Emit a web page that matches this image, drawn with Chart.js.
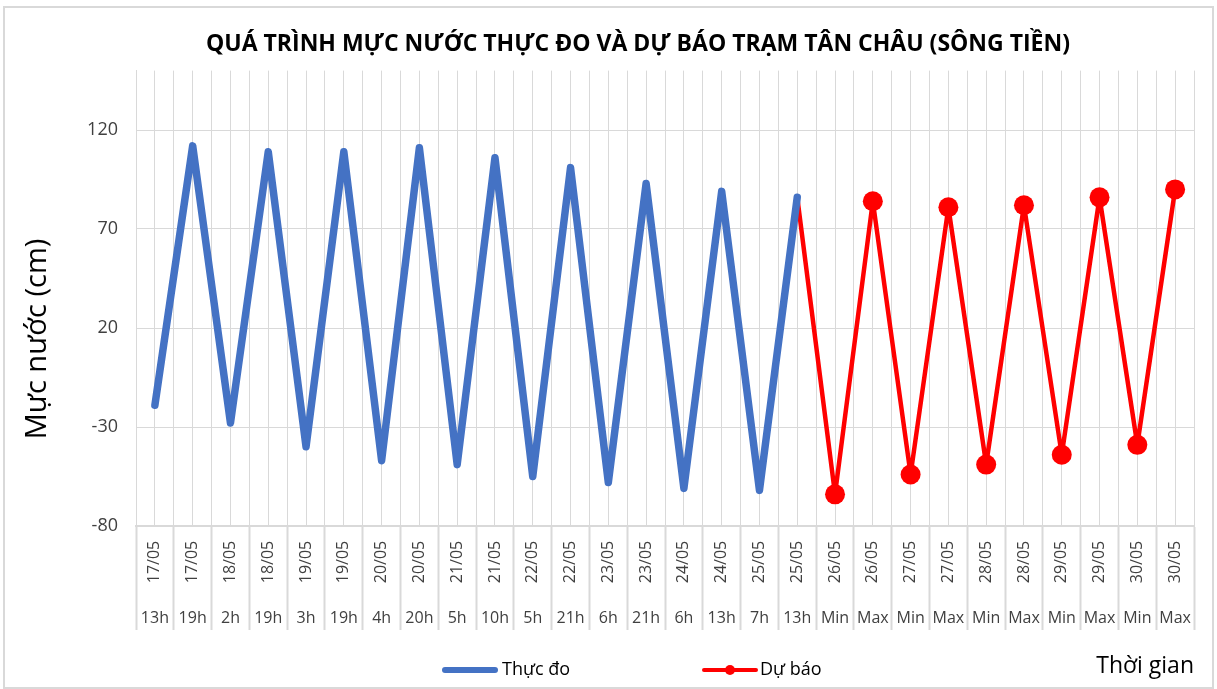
<!DOCTYPE html>
<html>
<head>
<meta charset="utf-8">
<title>Mực nước trạm Tân Châu</title>
<script src="https://cdn.jsdelivr.net/npm/chart.js@4.4.1/dist/chart.umd.min.js"></script>
<style>
  html, body { margin: 0; padding: 0; background: #fff; }
  canvas { display: block; }
</style>
</head>
<body>
<canvas id="chart" width="1217" height="689"></canvas>
<script>
// Category labels (two rows under the axis)
const dateLabels = ["17/05", "17/05", "18/05", "18/05", "19/05", "19/05", "20/05", "20/05",
  "21/05", "21/05", "22/05", "22/05", "23/05", "23/05", "24/05", "24/05", "25/05", "25/05",
  "26/05", "26/05", "27/05", "27/05", "28/05", "28/05", "29/05", "29/05", "30/05", "30/05"];
const timeLabels = ["13h", "19h", "2h", "19h", "3h", "19h", "4h", "20h", "5h", "10h", "5h", "21h",
  "6h", "21h", "6h", "13h", "7h", "13h", "Min", "Max", "Min", "Max", "Min", "Max", "Min", "Max", "Min", "Max"];

// Water level (cm)
const observed = [-19, 112, -28, 109, -40, 109, -47, 111, -49, 106, -55, 101, -58, 93, -61, 89, -62, 86,
  null, null, null, null, null, null, null, null, null, null];
const forecast = [null, null, null, null, null, null, null, null, null, null, null, null, null, null,
  null, null, null, 86, -64, 84, -54, 81, -49, 82, -44, 86, -39, 90];

// Y axis ticks
const yTicks = [-80, -30, 20, 70, 120];

const FONT = '"Open Sans", "Noto Sans", sans-serif';
const gridColor = "#d9d9d9";

// Frame around the chart + y title + axis labels + legend
const decorPlugin = {
  id: "decor",
  beforeDraw(chart) {
    const ctx = chart.ctx;
    ctx.save();
    ctx.strokeStyle = gridColor;
    ctx.lineWidth = 2;
    ctx.strokeRect(4, 7, 1209, 681);
    ctx.restore();
  },
  afterDraw(chart) {
    const ctx = chart.ctx;
    const xs = chart.scales.x;
    const area = chart.chartArea;
    ctx.save();

    // two-row category labels
    ctx.fillStyle = "#404040";
    ctx.font = "16px " + FONT;
    ctx.textAlign = "center";
    ctx.textBaseline = "middle";
    dateLabels.forEach((d, i) => {
      const px = xs.getPixelForValue(i);
      ctx.save();
      ctx.translate(px, area.bottom + 36);
      ctx.rotate(-Math.PI / 2);
      ctx.fillText(d, 0, 0);
      ctx.restore();
      ctx.fillText(timeLabels[i], px, area.bottom + 92);
    });

    // y axis title
    ctx.fillStyle = "#000";
    ctx.font = "29px " + FONT;
    ctx.save();
    ctx.translate(38, 339);
    ctx.rotate(-Math.PI / 2);
    ctx.fillText("Mực nước (cm)", 0, 0);
    ctx.restore();

    // x axis title
    ctx.font = "23px " + FONT;
    ctx.textAlign = "right";
    ctx.fillText("Thời gian", area.right, 666);

    // legend
    const ly = 670;
    const ds = chart.data.datasets;
    ctx.font = "18px " + FONT;
    ctx.textAlign = "left";
    ctx.fillStyle = "#000";
    ctx.lineCap = "round";

    ctx.strokeStyle = ds[0].borderColor;
    ctx.lineWidth = 6;
    ctx.beginPath();
    ctx.moveTo(445, ly);
    ctx.lineTo(495, ly);
    ctx.stroke();
    ctx.fillText(ds[0].label, 502, ly);

    ctx.strokeStyle = ds[1].borderColor;
    ctx.lineWidth = 4;
    ctx.beginPath();
    ctx.moveTo(704, ly);
    ctx.lineTo(756, ly);
    ctx.stroke();
    ctx.fillStyle = ds[1].borderColor;
    ctx.beginPath();
    ctx.arc(730, ly, 5, 0, Math.PI * 2);
    ctx.fill();
    ctx.fillStyle = "#000";
    ctx.fillText(ds[1].label, 760, ly);

    ctx.restore();
  }
};

const labels = dateLabels.map((d, i) => d + " " + timeLabels[i]);

new Chart(document.getElementById("chart"), {
  type: "line",
  data: {
    labels: labels,
    datasets: [
      {
        label: "Thực đo",
        data: observed,
        borderColor: "#4472c4",
        borderWidth: 7.5,
        borderJoinStyle: "round",
        borderCapStyle: "round",
        pointRadius: 0,
        pointHoverRadius: 0,
        tension: 0,
        spanGaps: false,
      },
      {
        label: "Dự báo",
        data: forecast,
        borderColor: "#ff0000",
        backgroundColor: "#ff0000",
        borderWidth: 4.5,
        borderJoinStyle: "round",
        borderCapStyle: "round",
        pointRadius: forecast.map((v, i) => (i === 17 ? 0 : 10)),
        pointBackgroundColor: "#ff0000",
        pointBorderWidth: 0,
        tension: 0,
        spanGaps: false,
      },
    ],
  },
  options: {
    responsive: false,
    animation: false,
    layout: { padding: { left: 82, right: 23, top: 0, bottom: 59 } },
    plugins: {
      legend: { display: false },
      tooltip: { enabled: false },
      title: {
        display: true,
        text: "QUÁ TRÌNH MỰC NƯỚC THỰC ĐO VÀ DỰ BÁO TRẠM TÂN CHÂU (SÔNG TIỀN)",
        color: "#000",
        font: { family: FONT, size: 23, weight: "bold" },
        padding: { top: 31, bottom: 12 },
      },
    },
    scales: {
      x: {
        type: "category",
        offset: true,
        grid: {
          offset: true,
          color: gridColor,
          lineWidth: 1,
          drawTicks: true,
          tickLength: 104,
          tickWidth: 2,
          tickColor: gridColor,
        },
        border: { display: true, color: gridColor, width: 2 },
        ticks: { display: false, autoSkip: false },
      },
      x2: {
        type: "category",
        position: "bottom",
        offset: true,
        grid: { offset: false, color: gridColor, lineWidth: 1, drawTicks: false },
        border: { display: false },
        ticks: { display: false, autoSkip: false },
      },
      y: {
        min: -80,
        max: 150,
        afterFit(scale) {
          scale.width = 54;
        },
        afterBuildTicks(scale) {
          scale.ticks = yTicks.map((v) => ({ value: v }));
        },
        grid: { color: gridColor, lineWidth: 1, drawTicks: false },
        border: { display: true, color: gridColor, width: 1 },
        ticks: {
          padding: 18,
          color: "#404040",
          font: { family: FONT, size: 18 },
        },
      },
    },
  },
  plugins: [decorPlugin],
});
</script>
</body>
</html>
